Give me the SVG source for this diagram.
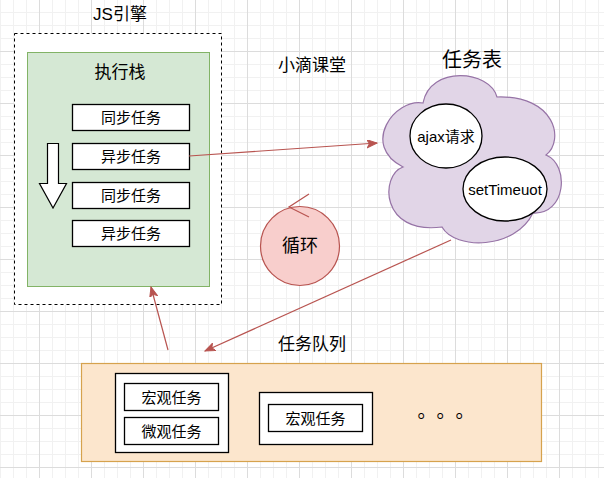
<svg xmlns="http://www.w3.org/2000/svg" width="604" height="478" viewBox="0 0 604 478">
<style>
text{font-family:"Liberation Sans","Noto Sans CJK SC",sans-serif;fill:#000;text-anchor:middle;dominant-baseline:central}
.box{fill:#fff;stroke:#000;stroke-width:1.3}
.t15{font-size:15px}
.link{fill:none;stroke:#b85450;stroke-width:1.2}
</style>
<defs>
<pattern id="grid" patternUnits="userSpaceOnUse" x="39" y="51" width="52" height="52">
<path d="M13.5 0V52M26.5 0V52M39.5 0V52M0 13.5H52M0 26.5H52M0 39.5H52" stroke="#f1f1f1" stroke-width="1" fill="none"/>
<path d="M0.5 0V52M0 0.5H52" stroke="#dcdcdc" stroke-width="1" fill="none"/>
</pattern>
<marker id="arr" markerUnits="userSpaceOnUse" markerWidth="12" markerHeight="10" refX="10" refY="4" orient="auto" viewBox="0 0 12 10">
<path d="M0 0L10 4L0 8L2.5 4Z" fill="#b85450" stroke="#b85450" stroke-width="1"/>
</marker>
</defs>
<rect x="0" y="0" width="604" height="478" fill="#fff"/>
<rect x="0" y="0" width="604" height="478" fill="url(#grid)"/>

<g id="js-engine">
<text x="120" y="14" style="font-size:17px">JS引擎</text>
<rect x="14.5" y="33.5" width="207" height="271" fill="#fff" stroke="#000" stroke-width="1" stroke-dasharray="3 3"/>
</g>

<g id="exec-stack">
<rect x="27.5" y="52.5" width="182" height="234" fill="#d5e8d4" stroke="#82b366" stroke-width="1"/>
<text x="120" y="72" style="font-size:17px">执行栈</text>
</g>
<g id="sync1"><rect class="box" x="72.5" y="104.5" width="117" height="26"/><text class="t15" x="131" y="117.5">同步任务</text></g>
<g id="async1"><rect class="box" x="72.5" y="143.5" width="117" height="26"/><text class="t15" x="131" y="156.5">异步任务</text></g>
<g id="sync2"><rect class="box" x="72.5" y="182.5" width="117" height="26"/><text class="t15" x="131" y="195.5">同步任务</text></g>
<g id="async2"><rect class="box" x="72.5" y="220.5" width="117" height="26"/><text class="t15" x="131" y="233.5">异步任务</text></g>
<g id="down-arrow"><polygon points="47.5,143.5 58.5,143.5 58.5,183.5 66.5,183.5 53,208 39.5,183.5 47.5,183.5" fill="#fff" stroke="#000" stroke-width="1.2"/></g>

<g id="title"><text x="312" y="65" style="font-size:17px">小滴课堂</text></g>

<g id="task-table">
<text x="472" y="60" style="font-size:20px">任务表</text>
<path d="M423 103C395 98 360 145 403 167C380 175 380 235 442 227C455 250 515 250 533 213C566 215 570 165 546 155C565 140 555 95 497 97C490 70 430 65 423 103Z" fill="#e1d5e7" stroke="#9673a6" stroke-width="1.2"/>
</g>
<g id="ajax"><ellipse cx="446" cy="136" rx="36" ry="32" fill="#fff" stroke="#000" stroke-width="1.3"/><text class="t15" x="446" y="136">ajax请求</text></g>
<g id="settimeout"><ellipse cx="505" cy="189" rx="42" ry="32" fill="#fff" stroke="#000" stroke-width="1.3"/><text class="t15" x="505" y="189">setTimeuot</text></g>

<g id="loop"><circle cx="300" cy="246" r="39.5" fill="#f8cecc" stroke="#b85450" stroke-width="1.2"/><text x="300" y="246" style="font-size:18px">循环</text></g>

<g id="task-queue">
<text x="312" y="344" style="font-size:17px">任务队列</text>
<rect x="81.5" y="363.5" width="460" height="98" fill="#fce6cd" stroke="#d6a24d" stroke-width="1.2"/>
</g>
<g id="group1"><rect class="box" x="115.5" y="373.5" width="113" height="79"/></g>
<g id="macro1"><rect class="box" x="124.5" y="383.5" width="94" height="27"/><text class="t15" x="171.5" y="397">宏观任务</text></g>
<g id="micro1"><rect class="box" x="124.5" y="417.5" width="94" height="27"/><text class="t15" x="171.5" y="431">微观任务</text></g>
<g id="group2"><rect class="box" x="259.5" y="392.5" width="113" height="52"/></g>
<g id="macro2"><rect class="box" x="268.5" y="404.5" width="94" height="27"/><text class="t15" x="315.5" y="418">宏观任务</text></g>
<g id="dots"><text x="446" y="409" style="font-size:19px;font-family:'Noto Sans CJK SC',sans-serif;text-spacing-trim:space-all">。。。</text></g>

<g id="connectors">
<line class="link" x1="189" y1="156" x2="377" y2="143" marker-end="url(#arr)"/>
<line class="link" x1="451" y1="240" x2="205" y2="351" marker-end="url(#arr)"/>
<line class="link" x1="168" y1="350" x2="151" y2="287" marker-end="url(#arr)"/>
<polyline class="link" points="309,194 289,207 309,217"/>
</g>
</svg>
